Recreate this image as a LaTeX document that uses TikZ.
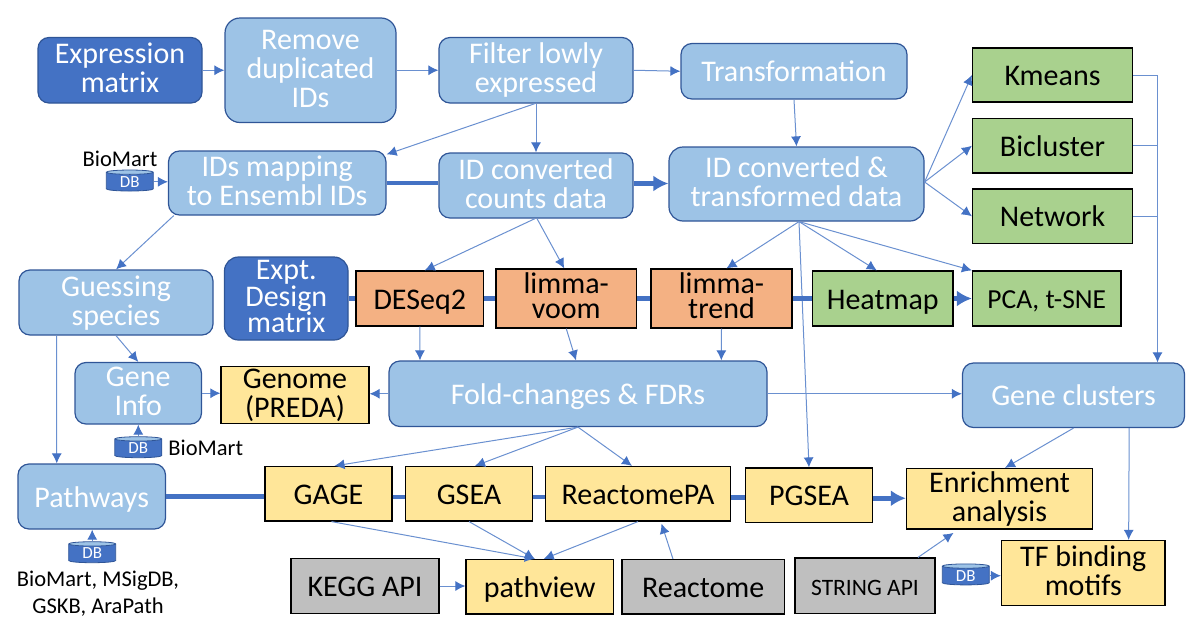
\documentclass[tikz,border=0pt]{standalone}
\usepackage{fontspec}
\setmainfont{Carlito}
\usetikzlibrary{arrows.meta,shapes.geometric,calc}
\definecolor{lightb}{HTML}{9DC3E6}
\definecolor{darkb}{HTML}{4472C4}
\definecolor{edgeb}{HTML}{2F5597}
\definecolor{orangeb}{HTML}{F4B183}
\definecolor{greenb}{HTML}{A9D18E}
\definecolor{yellowb}{HTML}{FFE699}
\definecolor{greyb}{HTML}{BFBFBF}
\definecolor{linkb}{HTML}{6A90D0}
\newcommand{\dep}[1]{\rule[\dimexpr-#1pt+2pt\relax]{0pt}{0pt}}
\newcommand{\sgl}[2][3]{\smash{#2}\dep{#1}}
\newcommand{\bx}[7][]{%
  \pgfmathsetmacro{\bxw}{#5-#3}\pgfmathsetmacro{\bxh}{#6-#4}%
  \pgfmathsetmacro{\bxx}{(#5+#3)/2}\pgfmathsetmacro{\bxy}{(#6+#4)/2}%
  \node[#1,minimum width=\bxw pt,minimum height=\bxh pt] (#2) at (\bxx,\bxy) {\rule{0pt}{22pt}#7};}
\tikzset{
  boxbase/.style={inner sep=0pt,align=center,font=\fontsize{30}{29}\selectfont,line width=1.2pt},
  lightbox/.style={boxbase,rounded corners=11pt,fill=lightb,draw=edgeb,text=white},
  darkbox/.style={boxbase,rounded corners=11pt,fill=darkb,draw=edgeb,text=white},
  orangebox/.style={boxbase,fill=orangeb,draw=black,text=black},
  greenbox/.style={boxbase,fill=greenb,draw=black,text=black},
  yellowbox/.style={boxbase,fill=yellowb,draw=black,text=black},
  greybox/.style={boxbase,fill=greyb,draw=black,text=black},
  dbcyl/.style={cylinder,shape border rotate=90,aspect=0.22,minimum width=47pt,minimum height=21pt,inner sep=0pt,
    cylinder uses custom fill,cylinder body fill=darkb,cylinder end fill=lightb,draw=edgeb,line width=0.8pt,
    text=white,font=\fontsize{17}{17}\selectfont},
  caption/.style={inner sep=0pt,align=center,text=black,font=\fontsize{22.5}{27}\selectfont},
  plain link/.style={draw=linkb,line width=1pt},
  thin link/.style={plain link,-{Latex[length=10pt,width=10pt,color=darkb]}},
  thick link/.style={draw=darkb,line width=4.5pt},
  thick arrow/.style={draw=darkb,line width=4.5pt,-{Latex[length=15pt,width=16pt]}},
}
\begin{document}
\begin{tikzpicture}[x=1pt,y=-1pt]
\useasboundingbox (0,0) rectangle (1200,643);
\bx[darkbox]{expr}{38}{37.5}{202}{103}{Expression\\matrix\dep{8}}
\bx[lightbox,rounded corners=15pt]{remove}{225}{18}{396}{122.5}{Remove\\duplicated\\IDs\dep{7}}
\bx[lightbox]{filter}{439}{37.5}{633}{103}{Filter lowly\\expressed\dep{8}}
\bx[lightbox]{transf}{681}{43.5}{907}{99}{\sgl{Transformation}}
\bx[greenbox]{kmeans}{972.5}{48}{1132.5}{102}{\sgl{Kmeans}}
\bx[greenbox]{biclust}{972.5}{118.5}{1132.5}{173}{\sgl{Bicluster}}
\bx[greenbox]{network}{972.5}{189}{1132.5}{243.5}{\sgl{Network}}
\bx[lightbox]{ids}{168.5}{151}{386}{215}{IDs mapping\\to Ensembl IDs\dep{8}}
\bx[lightbox]{idconv}{439}{153}{633}{218}{ID converted\\counts data\dep{8}}
\bx[lightbox,rounded corners=14pt]{idtrans}{669}{147}{924}{221}{ID converted \&\\transformed data\dep{8}}
\bx[lightbox]{guess}{19}{270}{213}{335}{Guessing\\species\dep{8}}
\bx[darkbox,rounded corners=14pt]{expt}{224.5}{257}{348}{340}{Expt.\\[-2.3pt]Design\\[-2.3pt]matrix\dep{8.6}}
\bx[orangebox]{deseq}{356}{271}{483.5}{326}{\sgl{DESeq2}}
\bx[orangebox]{voom}{496}{269}{636.5}{328}{limma-\\[-4pt]voom\dep{9}}
\bx[orangebox]{trend}{651}{269}{792}{328}{limma-\\[-4pt]trend\dep{9}}
\bx[greenbox]{heatmap}{812.5}{271}{953}{326}{\sgl{Heatmap}}
\bx[greenbox,font=\fontsize{27.5}{28}\selectfont]{pca}{972.5}{271}{1121}{326}{\sgl[4.4]{PCA, t-SNE}}
\bx[lightbox]{geneinfo}{75}{362.5}{201.5}{424}{Gene\\Info\dep{8}}
\bx[yellowbox]{genome}{221}{367}{369}{423.5}{Genome\\(PREDA)\dep{8}}
\bx[lightbox]{fold}{389}{361}{767}{426.5}{\sgl{Fold-changes \& FDRs}}
\bx[lightbox]{clusters}{962.5}{363}{1184.5}{427.5}{\sgl{Gene clusters}}
\bx[lightbox]{pathways}{18}{464}{165.5}{529}{\sgl{Pathways}}
\bx[yellowbox]{gage}{265}{466.5}{392}{521}{\sgl{GAGE}}
\bx[yellowbox]{gsea}{405.5}{466.5}{532.5}{521}{\sgl{GSEA}}
\bx[yellowbox]{reactpa}{545.5}{466.5}{730.5}{521}{\sgl{ReactomePA}}
\bx[yellowbox]{pgsea}{745.5}{468}{872.5}{522.5}{\sgl{PGSEA}}
\bx[yellowbox]{enrich}{906.5}{468.5}{1092.5}{529}{Enrichment\\analysis\dep{8}}
\bx[greybox]{kegg}{291}{558.5}{439}{613.5}{\sgl{KEGG API}}
\bx[yellowbox]{pathview}{466}{559.5}{613.5}{614}{\sgl{pathview}}
\bx[greybox]{reactome}{622}{559.5}{784.5}{614}{\sgl{Reactome}}
\bx[greybox,font=\fontsize{23.5}{26}\selectfont]{string}{795}{558}{935}{613.5}{\sgl[5.2]{STRING API}}
\bx[yellowbox]{tf}{1001.5}{540.5}{1165}{605.5}{TF binding\\motifs\dep{8}}
\node[dbcyl] (db1) at (129.8,181.8) {DB};
\node[dbcyl] (db2) at (138.3,448.5) {DB};
\node[dbcyl] (db3) at (92.2,553.5) {DB};
\node[dbcyl] (db4) at (965.8,575.7) {DB};
\node[caption] (cap1) at (120,159) {BioMart};
\node[caption] (cap2) at (205.8,448) {BioMart};
\node[caption] (cap3) at (98,594) {BioMart, MSigDB,\\GSKB, AraPath};
\coordinate (bus) at ([xshift=84]clusters.north);
% thin links
\draw[thin link] (expr.east) -- (remove.west);
\draw[thin link] (remove.east) -- (filter.west);
\draw[thin link] (filter.east) -- (transf.west);
\draw[thin link] ([xshift=-1]filter.south) -- ([yshift=-4]ids.north east);
\draw[thin link] (filter.south) -- (idconv.north);
\draw[thin link] (transf.south) -- (idtrans.north);
\draw[thin link] ([yshift=2]idtrans.east) -- (kmeans.west);
\draw[thin link] ([yshift=2]idtrans.east) -- (biclust.west);
\draw[thin link] ([yshift=2]idtrans.east) -- (network.west);
\draw[thin link] (kmeans.east) -| (bus);
\draw[plain link] (biclust.east) -- (biclust.east -| bus);
\draw[plain link] (network.east) -- (network.east -| bus);
\draw[thin link] (db1.east) -- (db1.east -| ids.west);
\draw[thin link] ([xshift=-103.5]ids.south) -- (guess.north);
\draw[thin link] ([xshift=-1]idconv.south) -- ([xshift=5]deseq.north);
\draw[thin link] ([xshift=1]idconv.south) -- ([xshift=-2]voom.north);
\draw[thin link] ([xshift=2.5]idtrans.south) -- ([xshift=5]trend.north);
\draw[thin link] ([xshift=2.5]idtrans.south) -- ([xshift=-6]heatmap.north);
\draw[thin link] ([xshift=2.5]idtrans.south) -- (pca.north west);
\draw[thin link] ([xshift=2.5]idtrans.south) -- (pgsea.north);
\draw[thin link] (deseq.south) -- ([xshift=-158]fold.north);
\draw[thin link] (voom.south) -- ([xshift=-2]fold.north);
\draw[thin link] (trend.south) -- ([xshift=143.3]fold.north);
\draw[thin link] (guess.south) -- (geneinfo.north);
\draw[thin link] ([xshift=-59.3]guess.south) -- ([xshift=-35]pathways.north);
\draw[thin link] (db2.north) -- (db2.north |- geneinfo.south);
\draw[thin link] (geneinfo.east) -- (geneinfo.east -| genome.west);
\draw[thin link] (fold.west) -- (fold.west -| genome.east);
\draw[thin link] (fold.east) -- (fold.east -| clusters.west);
\draw[thin link] (fold.south) -- ([xshift=6]gage.north);
\draw[thin link] (fold.south) -- ([xshift=6]gsea.north);
\draw[thin link] (fold.south) -- ([xshift=-6]reactpa.north);
\draw[thin link] (clusters.south) -- ([xshift=5.5]enrich.north);
\draw[thin link] ([xshift=55.7]clusters.south) -- ([xshift=45.4]tf.north);
\draw[thin link] ([xshift=3]gage.south) -- ([xshift=-5]pathview.north);
\draw[thin link] (gsea.south) -- ([xshift=-5]pathview.north);
\draw[thin link] (reactpa.south) -- ([xshift=4]pathview.north);
\draw[thin link] (kegg.east) -- (kegg.east -| pathview.west);
\draw[thin link] ([xshift=-30.3]reactome.north) -- ([xshift=23.5,yshift=-2]reactpa.south);
\draw[thin link] ([xshift=53]string.north) -- ([xshift=-46,yshift=-3.3]enrich.south);
\draw[thin link] (db4.east) -- (db4.east -| tf.west);
\draw[thin link] (db3.north) -- (db3.north |- pathways.south);
% thick links
\draw[thick link] (ids.east) -- (ids.east -| idconv.west);
\draw[thick arrow] ([yshift=2]idconv.east) -- ([yshift=2]idconv.east -| idtrans.west);
\draw[thick link] (expt.east) -- (expt.east -| deseq.west);
\draw[thick link] (deseq.east) -- (voom.west);
\draw[thick link] (voom.east) -- (trend.west);
\draw[thick link] (trend.east) -- (heatmap.west);
\draw[thick arrow] (heatmap.east) -- (pca.west);
\draw[thick link] (pathways.east) -- (pathways.east -| gage.west);
\draw[thick link] ([yshift=-3]gage.east) -- ([yshift=-3]gsea.west);
\draw[thick link] ([yshift=-3]gsea.east) -- ([yshift=-3]reactpa.west);
\draw[thick link] ([yshift=-3.5]reactpa.east) -- ([yshift=-3.5]reactpa.east -| pgsea.west);
\draw[thick arrow] ([yshift=-3]pgsea.east) -- ([yshift=-3]pgsea.east -| enrich.west);
\end{tikzpicture}
\end{document}
